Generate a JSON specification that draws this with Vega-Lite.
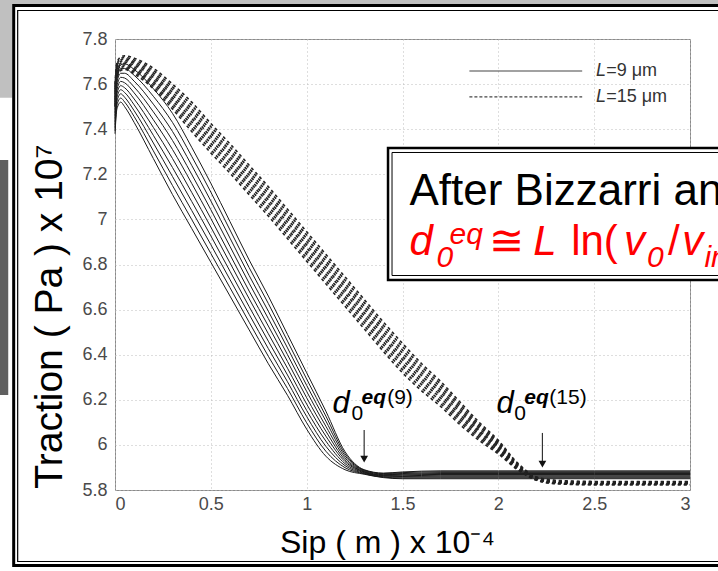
{
  "$schema": "https://vega.github.io/schema/vega-lite/v6.json",
  "width": 575,
  "height": 451,
  "autosize": {"type": "none"},
  "padding": {"left": 115, "top": 39, "right": 28, "bottom": 81},
  "background": "white",
  "config": {
    "view": {"stroke": "#8a8a8a", "strokeWidth": 1},
    "font": "Liberation Sans",
    "axis": {
      "grid": true, "gridColor": "#bdbdbd", "gridDash": [1, 3], "gridWidth": 1,
      "domain": false, "ticks": false,
      "labelFont": "Liberation Sans", "labelFontSize": 18, "labelColor": "#4a4a4a",
      "titleFont": "Liberation Sans", "titleFontWeight": "normal", "titleColor": "black"
    }
  },
  "layer": [
    {
      "data": {"values": [
        {"x":0,"s0":7.38,"s1":7.393,"s2":7.407,"s3":7.42,"s4":7.433,"s5":7.447,"s6":7.46,"s7":7.473,"s8":7.487,"s9":7.5},
        {"x":0.01,"s0":7.49,"s1":7.507,"s2":7.523,"s3":7.54,"s4":7.557,"s5":7.573,"s6":7.59,"s7":7.607,"s8":7.623,"s9":7.64},
        {"x":0.03,"s0":7.52,"s1":7.538,"s2":7.557,"s3":7.575,"s4":7.593,"s5":7.612,"s6":7.63,"s7":7.648,"s8":7.667,"s9":7.685},
        {"x":0.05,"s0":7.5,"s1":7.521,"s2":7.542,"s3":7.563,"s4":7.584,"s5":7.606,"s6":7.627,"s7":7.648,"s8":7.669,"s9":7.69},
        {"x":0.1,"s0":7.43,"s1":7.456,"s2":7.482,"s3":7.508,"s4":7.534,"s5":7.561,"s6":7.587,"s7":7.613,"s8":7.639,"s9":7.665},
        {"x":0.2,"s0":7.27,"s1":7.304,"s2":7.339,"s3":7.373,"s4":7.408,"s5":7.442,"s6":7.477,"s7":7.511,"s8":7.546,"s9":7.58},
        {"x":0.3,"s0":7.11,"s1":7.15,"s2":7.19,"s3":7.23,"s4":7.27,"s5":7.31,"s6":7.35,"s7":7.39,"s8":7.43,"s9":7.47},
        {"x":0.4,"s0":6.96,"s1":7.0,"s2":7.04,"s3":7.08,"s4":7.12,"s5":7.16,"s6":7.2,"s7":7.24,"s8":7.28,"s9":7.32},
        {"x":0.5,"s0":6.81,"s1":6.849,"s2":6.888,"s3":6.927,"s4":6.966,"s5":7.004,"s6":7.043,"s7":7.082,"s8":7.121,"s9":7.16},
        {"x":0.6,"s0":6.66,"s1":6.697,"s2":6.733,"s3":6.77,"s4":6.807,"s5":6.843,"s6":6.88,"s7":6.917,"s8":6.953,"s9":6.99},
        {"x":0.7,"s0":6.51,"s1":6.544,"s2":6.579,"s3":6.613,"s4":6.648,"s5":6.682,"s6":6.717,"s7":6.751,"s8":6.786,"s9":6.82},
        {"x":0.8,"s0":6.36,"s1":6.393,"s2":6.427,"s3":6.46,"s4":6.493,"s5":6.527,"s6":6.56,"s7":6.593,"s8":6.627,"s9":6.66},
        {"x":0.9,"s0":6.22,"s1":6.25,"s2":6.28,"s3":6.31,"s4":6.34,"s5":6.37,"s6":6.4,"s7":6.43,"s8":6.46,"s9":6.49},
        {"x":1.0,"s0":6.07,"s1":6.098,"s2":6.126,"s3":6.153,"s4":6.181,"s5":6.209,"s6":6.237,"s7":6.264,"s8":6.292,"s9":6.32},
        {"x":1.1,"s0":5.95,"s1":5.972,"s2":5.994,"s3":6.017,"s4":6.039,"s5":6.061,"s6":6.083,"s7":6.106,"s8":6.128,"s9":6.15},
        {"x":1.2,"s0":5.89,"s1":5.899,"s2":5.908,"s3":5.917,"s4":5.926,"s5":5.934,"s6":5.943,"s7":5.952,"s8":5.961,"s9":5.97},
        {"x":1.3,"s0":5.87,"s1":5.872,"s2":5.874,"s3":5.877,"s4":5.879,"s5":5.881,"s6":5.883,"s7":5.886,"s8":5.888,"s9":5.89},
        {"x":1.4,"s0":5.855,"s1":5.857,"s2":5.859,"s3":5.862,"s4":5.864,"s5":5.866,"s6":5.868,"s7":5.871,"s8":5.873,"s9":5.875},
        {"x":1.5,"s0":5.85,"s1":5.853,"s2":5.857,"s3":5.86,"s4":5.863,"s5":5.867,"s6":5.87,"s7":5.873,"s8":5.877,"s9":5.88},
        {"x":1.7,"s0":5.85,"s1":5.854,"s2":5.858,"s3":5.862,"s4":5.866,"s5":5.869,"s6":5.873,"s7":5.877,"s8":5.881,"s9":5.885},
        {"x":2.0,"s0":5.85,"s1":5.854,"s2":5.858,"s3":5.862,"s4":5.866,"s5":5.869,"s6":5.873,"s7":5.877,"s8":5.881,"s9":5.885},
        {"x":2.5,"s0":5.85,"s1":5.854,"s2":5.858,"s3":5.862,"s4":5.866,"s5":5.869,"s6":5.873,"s7":5.877,"s8":5.881,"s9":5.885},
        {"x":3.0,"s0":5.85,"s1":5.854,"s2":5.858,"s3":5.862,"s4":5.866,"s5":5.869,"s6":5.873,"s7":5.877,"s8":5.881,"s9":5.885}
      ]},
      "transform": [{"fold": ["s0","s1","s2","s3","s4","s5","s6","s7","s8","s9"], "as": ["curve", "y"]}],
      "mark": {"type": "line", "stroke": "#1a1a1a", "strokeWidth": 1, "interpolate": "monotone"},
      "encoding": {
        "x": {"field": "x", "type": "quantitative",
              "scale": {"domain": [0, 3], "nice": false, "zero": false},
              "axis": {"values": [0, 0.5, 1, 1.5, 2, 2.5, 3], "format": "~g", "labelPadding": 5,
                       "title": "Sip ( m ) x 10⁻⁴", "titleFontSize": 32, "titleX": 272, "titleY": 62,
                       "titleAlign": "center", "titleBaseline": "alphabetic"}},
        "y": {"field": "y", "type": "quantitative",
              "scale": {"domain": [5.8, 7.8], "nice": false, "zero": false},
              "axis": {"values": [5.8, 6, 6.2, 6.4, 6.6, 6.8, 7, 7.2, 7.4, 7.6, 7.8], "format": "~g", "labelPadding": 8,
                       "title": "Traction ( Pa ) x 10⁷", "titleFontSize": 39, "titleX": -54, "titleY": 277,
                       "titleAngle": -90, "titleAlign": "center", "titleBaseline": "alphabetic"}},
        "detail": {"field": "curve"}
      }
    },
    {
      "data": {"values": [
        {"x":0,"d0":7.5,"d1":7.511,"d2":7.522,"d3":7.533,"d4":7.544,"d5":7.556,"d6":7.567,"d7":7.578,"d8":7.589,"d9":7.6},
        {"x":0.01,"d0":7.625,"d1":7.633,"d2":7.641,"d3":7.648,"d4":7.656,"d5":7.664,"d6":7.672,"d7":7.679,"d8":7.687,"d9":7.695},
        {"x":0.03,"d0":7.66,"d1":7.667,"d2":7.673,"d3":7.68,"d4":7.687,"d5":7.693,"d6":7.7,"d7":7.707,"d8":7.713,"d9":7.72},
        {"x":0.05,"d0":7.665,"d1":7.672,"d2":7.678,"d3":7.685,"d4":7.692,"d5":7.698,"d6":7.705,"d7":7.712,"d8":7.718,"d9":7.725},
        {"x":0.1,"d0":7.645,"d1":7.653,"d2":7.661,"d3":7.668,"d4":7.676,"d5":7.684,"d6":7.692,"d7":7.699,"d8":7.707,"d9":7.715},
        {"x":0.2,"d0":7.58,"d1":7.59,"d2":7.6,"d3":7.61,"d4":7.62,"d5":7.63,"d6":7.64,"d7":7.65,"d8":7.66,"d9":7.67},
        {"x":0.3,"d0":7.49,"d1":7.502,"d2":7.514,"d3":7.527,"d4":7.539,"d5":7.551,"d6":7.563,"d7":7.576,"d8":7.588,"d9":7.6},
        {"x":0.4,"d0":7.39,"d1":7.404,"d2":7.419,"d3":7.433,"d4":7.448,"d5":7.462,"d6":7.477,"d7":7.491,"d8":7.506,"d9":7.52},
        {"x":0.5,"d0":7.295,"d1":7.309,"d2":7.324,"d3":7.338,"d4":7.353,"d5":7.367,"d6":7.382,"d7":7.396,"d8":7.411,"d9":7.425},
        {"x":0.6,"d0":7.205,"d1":7.219,"d2":7.234,"d3":7.248,"d4":7.263,"d5":7.277,"d6":7.292,"d7":7.306,"d8":7.321,"d9":7.335},
        {"x":0.7,"d0":7.11,"d1":7.124,"d2":7.139,"d3":7.153,"d4":7.168,"d5":7.182,"d6":7.197,"d7":7.211,"d8":7.226,"d9":7.24},
        {"x":0.8,"d0":7.015,"d1":7.029,"d2":7.044,"d3":7.058,"d4":7.073,"d5":7.087,"d6":7.102,"d7":7.116,"d8":7.131,"d9":7.145},
        {"x":0.9,"d0":6.915,"d1":6.929,"d2":6.944,"d3":6.958,"d4":6.973,"d5":6.987,"d6":7.002,"d7":7.016,"d8":7.031,"d9":7.045},
        {"x":1.0,"d0":6.815,"d1":6.829,"d2":6.844,"d3":6.858,"d4":6.873,"d5":6.887,"d6":6.902,"d7":6.916,"d8":6.931,"d9":6.945},
        {"x":1.1,"d0":6.715,"d1":6.729,"d2":6.744,"d3":6.758,"d4":6.773,"d5":6.787,"d6":6.802,"d7":6.816,"d8":6.831,"d9":6.845},
        {"x":1.2,"d0":6.615,"d1":6.629,"d2":6.644,"d3":6.658,"d4":6.673,"d5":6.687,"d6":6.702,"d7":6.716,"d8":6.731,"d9":6.745},
        {"x":1.3,"d0":6.515,"d1":6.529,"d2":6.544,"d3":6.558,"d4":6.573,"d5":6.587,"d6":6.602,"d7":6.616,"d8":6.631,"d9":6.645},
        {"x":1.4,"d0":6.415,"d1":6.429,"d2":6.444,"d3":6.458,"d4":6.473,"d5":6.487,"d6":6.502,"d7":6.516,"d8":6.531,"d9":6.545},
        {"x":1.5,"d0":6.32,"d1":6.334,"d2":6.349,"d3":6.363,"d4":6.378,"d5":6.392,"d6":6.407,"d7":6.421,"d8":6.436,"d9":6.45},
        {"x":1.6,"d0":6.24,"d1":6.253,"d2":6.267,"d3":6.28,"d4":6.293,"d5":6.307,"d6":6.32,"d7":6.333,"d8":6.347,"d9":6.36},
        {"x":1.7,"d0":6.17,"d1":6.182,"d2":6.194,"d3":6.207,"d4":6.219,"d5":6.231,"d6":6.243,"d7":6.256,"d8":6.268,"d9":6.28},
        {"x":1.8,"d0":6.09,"d1":6.101,"d2":6.112,"d3":6.123,"d4":6.134,"d5":6.146,"d6":6.157,"d7":6.168,"d8":6.179,"d9":6.19},
        {"x":1.9,"d0":6.02,"d1":6.029,"d2":6.038,"d3":6.047,"d4":6.056,"d5":6.064,"d6":6.073,"d7":6.082,"d8":6.091,"d9":6.1},
        {"x":2.0,"d0":5.96,"d1":5.967,"d2":5.973,"d3":5.98,"d4":5.987,"d5":5.993,"d6":6.0,"d7":6.007,"d8":6.013,"d9":6.02},
        {"x":2.1,"d0":5.89,"d1":5.893,"d2":5.897,"d3":5.9,"d4":5.903,"d5":5.907,"d6":5.91,"d7":5.913,"d8":5.917,"d9":5.92},
        {"x":2.2,"d0":5.843,"d1":5.844,"d2":5.846,"d3":5.848,"d4":5.849,"d5":5.851,"d6":5.853,"d7":5.854,"d8":5.856,"d9":5.858},
        {"x":2.3,"d0":5.828,"d1":5.829,"d2":5.831,"d3":5.833,"d4":5.834,"d5":5.836,"d6":5.838,"d7":5.839,"d8":5.841,"d9":5.843},
        {"x":2.5,"d0":5.823,"d1":5.824,"d2":5.826,"d3":5.828,"d4":5.829,"d5":5.831,"d6":5.833,"d7":5.834,"d8":5.836,"d9":5.838},
        {"x":3.0,"d0":5.823,"d1":5.824,"d2":5.826,"d3":5.828,"d4":5.829,"d5":5.831,"d6":5.833,"d7":5.834,"d8":5.836,"d9":5.838}
      ]},
      "transform": [{"fold": ["d0","d1","d2","d3","d4","d5","d6","d7","d8","d9"], "as": ["curve", "y"]}],
      "mark": {"type": "line", "stroke": "#222", "strokeWidth": 1.6, "strokeDash": [3, 3], "interpolate": "monotone"},
      "encoding": {
        "x": {"field": "x", "type": "quantitative"},
        "y": {"field": "y", "type": "quantitative"},
        "detail": {"field": "curve"}
      }
    },
    {
      "data": {"values": [{"x": 1.849, "x2": 2.4375, "y": 7.658}]},
      "mark": {"type": "rule", "stroke": "#444", "strokeWidth": 1.2},
      "encoding": {"x": {"field": "x", "type": "quantitative"}, "x2": {"field": "x2"}, "y": {"field": "y", "type": "quantitative"}}
    },
    {
      "data": {"values": [{"x": 1.849, "x2": 2.4375, "y": 7.543}]},
      "mark": {"type": "rule", "stroke": "#444", "strokeWidth": 1.2, "strokeDash": [3, 2]},
      "encoding": {"x": {"field": "x", "type": "quantitative"}, "x2": {"field": "x2"}, "y": {"field": "y", "type": "quantitative"}}
    },
    {
      "data": {"values": [{"x": 2.51, "y": 7.658, "t": "L"}, {"x": 2.51, "y": 7.543, "t": "L"}]},
      "mark": {"type": "text", "font": "Liberation Sans", "fontSize": 18, "fontStyle": "italic", "color": "#333", "align": "left", "baseline": "middle"},
      "encoding": {"x": {"field": "x", "type": "quantitative"}, "y": {"field": "y", "type": "quantitative"}, "text": {"field": "t"}}
    },
    {
      "data": {"values": [{"x": 2.5625, "y": 7.658, "t": "=9 μm"}, {"x": 2.5625, "y": 7.543, "t": "=15 μm"}]},
      "mark": {"type": "text", "font": "Liberation Sans", "fontSize": 18, "color": "#333", "align": "left", "baseline": "middle"},
      "encoding": {"x": {"field": "x", "type": "quantitative"}, "y": {"field": "y", "type": "quantitative"}, "text": {"field": "t"}}
    },
    {
      "data": {"values": [{"x": 1.30, "y": 6.066, "y2": 5.937}, {"x": 2.23, "y": 6.053, "y2": 5.915}]},
      "mark": {"type": "rule", "stroke": "#333", "strokeWidth": 1.2},
      "encoding": {"x": {"field": "x", "type": "quantitative"}, "y": {"field": "y", "type": "quantitative"}, "y2": {"field": "y2"}}
    },
    {
      "data": {"values": [{"x": 1.30, "y": 5.937}, {"x": 2.23, "y": 5.915}]},
      "mark": {"type": "point", "shape": "triangle-down", "filled": true, "color": "#111", "size": 60, "opacity": 1},
      "encoding": {"x": {"field": "x", "type": "quantitative"}, "y": {"field": "y", "type": "quantitative"}}
    },
    {
      "data": {"values": [{"x": 1.135, "y": 6.141, "t": "d"}, {"x": 1.99, "y": 6.141, "t": "d"}]},
      "mark": {"type": "text", "font": "Liberation Sans", "fontSize": 31, "fontStyle": "italic", "color": "black", "align": "left", "baseline": "alphabetic"},
      "encoding": {"x": {"field": "x", "type": "quantitative"}, "y": {"field": "y", "type": "quantitative"}, "text": {"field": "t"}}
    },
    {
      "data": {"values": [{"x": 1.234, "y": 6.11, "t": "0"}, {"x": 2.083, "y": 6.11, "t": "0"}, {"x": 1.42, "y": 6.18, "t": "(9)"}, {"x": 2.266, "y": 6.18, "t": "(15)"}]},
      "mark": {"type": "text", "font": "Liberation Sans", "fontSize": 21, "color": "black", "align": "left", "baseline": "alphabetic"},
      "encoding": {"x": {"field": "x", "type": "quantitative"}, "y": {"field": "y", "type": "quantitative"}, "text": {"field": "t"}}
    },
    {
      "data": {"values": [{"x": 1.286, "y": 6.18, "t": "eq"}, {"x": 2.135, "y": 6.18, "t": "eq"}]},
      "mark": {"type": "text", "font": "Liberation Sans", "fontSize": 21, "fontStyle": "italic", "fontWeight": "bold", "color": "black", "align": "left", "baseline": "alphabetic"},
      "encoding": {"x": {"field": "x", "type": "quantitative"}, "y": {"field": "y", "type": "quantitative"}, "text": {"field": "t"}}
    },
    {
      "data": {"values": [{"x": 1.4245, "x2": 3.203, "y": 7.3166, "y2": 6.7313}]},
      "mark": {"type": "rect", "fill": "white", "stroke": "black", "strokeWidth": 2.5},
      "encoding": {"x": {"field": "x", "type": "quantitative"}, "x2": {"field": "x2"}, "y": {"field": "y", "type": "quantitative"}, "y2": {"field": "y2"}}
    },
    {
      "data": {"values": [{"x": 1.4453, "x2": 3.203, "y": 7.2967, "y2": 6.7512}]},
      "mark": {"type": "rect", "fill": "transparent", "stroke": "black", "strokeWidth": 1},
      "encoding": {"x": {"field": "x", "type": "quantitative"}, "x2": {"field": "x2"}, "y": {"field": "y", "type": "quantitative"}, "y2": {"field": "y2"}}
    },
    {
      "data": {"values": [{"x": 1.536, "y": 7.064, "t": "After Bizzarri and Cocco"}]},
      "mark": {"type": "text", "font": "Liberation Sans", "fontSize": 44, "color": "black", "align": "left", "baseline": "alphabetic"},
      "encoding": {"x": {"field": "x", "type": "quantitative"}, "y": {"field": "y", "type": "quantitative"}, "text": {"field": "t"}}
    },
    {
      "data": {"values": [{"x": 1.536, "y": 6.842, "t": "d"}, {"x": 2.182, "y": 6.842, "t": "L"}, {"x": 2.656, "y": 6.842, "t": "v"}, {"x": 2.96, "y": 6.842, "t": "v"}]},
      "mark": {"type": "text", "font": "Liberation Sans", "fontSize": 42, "fontStyle": "italic", "color": "#ff0000", "align": "left", "baseline": "alphabetic"},
      "encoding": {"x": {"field": "x", "type": "quantitative"}, "y": {"field": "y", "type": "quantitative"}, "text": {"field": "t"}}
    },
    {
      "data": {"values": [{"x": 1.953, "y": 6.842, "t": "≅"}, {"x": 2.38, "y": 6.842, "t": "ln("}, {"x": 2.885, "y": 6.842, "t": "/"}]},
      "mark": {"type": "text", "font": "Liberation Sans", "fontSize": 42, "color": "#ff0000", "align": "left", "baseline": "alphabetic"},
      "encoding": {"x": {"field": "x", "type": "quantitative"}, "y": {"field": "y", "type": "quantitative"}, "text": {"field": "t"}}
    },
    {
      "data": {"values": [{"x": 1.677, "y": 6.79, "t": "0"}, {"x": 1.745, "y": 6.89, "t": "eq"}, {"x": 2.776, "y": 6.79, "t": "0"}, {"x": 3.075, "y": 6.79, "t": "init"}]},
      "mark": {"type": "text", "font": "Liberation Sans", "fontSize": 30, "fontStyle": "italic", "color": "#ff0000", "align": "left", "baseline": "alphabetic"},
      "encoding": {"x": {"field": "x", "type": "quantitative"}, "y": {"field": "y", "type": "quantitative"}, "text": {"field": "t"}}
    },
    {
      "data": {"values": [
        {"x": -0.6, "x2": 3.3, "y": 7.99, "y2": 7.9552},
        {"x": -0.6, "x2": -0.536, "y": 7.99, "y2": 7.54}
      ]},
      "mark": {"type": "rect", "fill": "#c0c0c0"},
      "encoding": {"x": {"field": "x", "type": "quantitative"}, "x2": {"field": "x2"}, "y": {"field": "y", "type": "quantitative"}, "y2": {"field": "y2"}}
    },
    {
      "data": {"values": [{"x": -0.6, "x2": -0.557, "y": 7.263, "y2": 6.221}]},
      "mark": {"type": "rect", "fill": "#444", "opacity": 0.85},
      "encoding": {"x": {"field": "x", "type": "quantitative"}, "x2": {"field": "x2"}, "y": {"field": "y", "type": "quantitative"}, "y2": {"field": "y2"}}
    },
    {
      "data": {"values": [{"x": -0.5286, "x2": 3.3, "y": 7.9486, "y2": 5.4652}]},
      "mark": {"type": "rect", "fill": "transparent", "stroke": "black", "strokeWidth": 3},
      "encoding": {"x": {"field": "x", "type": "quantitative"}, "x2": {"field": "x2"}, "y": {"field": "y", "type": "quantitative"}, "y2": {"field": "y2"}}
    },
    {
      "data": {"values": [{"x": -0.5078, "x2": 3.3, "y": 7.9264, "y2": 5.4829}]},
      "mark": {"type": "rect", "fill": "transparent", "stroke": "black", "strokeWidth": 1.2},
      "encoding": {"x": {"field": "x", "type": "quantitative"}, "x2": {"field": "x2"}, "y": {"field": "y", "type": "quantitative"}, "y2": {"field": "y2"}}
    }
  ]
}
